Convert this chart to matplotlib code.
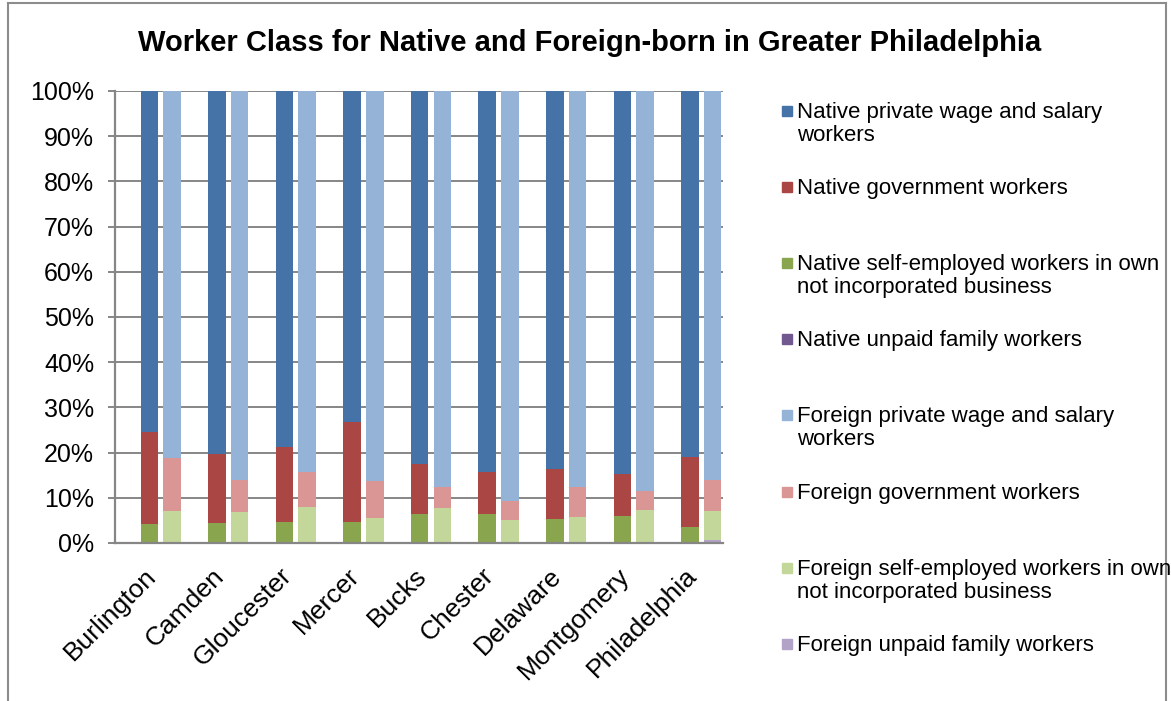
import numpy as np
import matplotlib
matplotlib.use("Agg")
import matplotlib.pyplot as plt
from matplotlib.patches import Rectangle
from matplotlib.lines import Line2D
from matplotlib.ticker import FuncFormatter

# Data (percent of workers)
counties = ["Burlington", "Camden", "Gloucester", "Mercer", "Bucks",
            "Chester", "Delaware", "Montgomery", "Philadelphia"]

native_private = [75.4, 80.2, 78.7, 73.3, 82.6, 84.4, 83.7, 84.8, 81.0]
native_gov     = [20.3, 15.4, 16.7, 22.1, 11.0, 9.1, 11.0, 9.2, 15.5]
native_self    = [4.2, 4.3, 4.5, 4.5, 6.3, 6.4, 5.2, 5.9, 3.4]
native_unpaid  = [0.1, 0.1, 0.1, 0.1, 0.1, 0.1, 0.1, 0.1, 0.1]

foreign_private = [81.3, 86.1, 84.2, 86.2, 87.5, 90.7, 87.5, 88.6, 86.1]
foreign_gov     = [11.7, 7.0, 7.8, 8.3, 4.7, 4.2, 6.8, 4.1, 6.8]
foreign_self    = [6.9, 6.7, 7.9, 5.4, 7.7, 5.0, 5.5, 7.2, 6.5]
foreign_unpaid  = [0.1, 0.2, 0.1, 0.1, 0.1, 0.1, 0.2, 0.1, 0.6]

LABELS = ["Native private wage and salary\nworkers",
          "Native government workers",
          "Native self-employed workers in own\nnot incorporated business",
          "Native unpaid family workers",
          "Foreign private wage and salary\nworkers",
          "Foreign government workers",
          "Foreign self-employed workers in own\nnot incorporated business",
          "Foreign unpaid family workers"]

COLORS = ["#4572A7", "#AA4643", "#89A54E", "#71588F",
          "#95B3D7", "#DA9694", "#C4D79B", "#B3A2C7"]

plt.rcParams.update({
    "font.family": ["Liberation Sans", "DejaVu Sans"],
})

W, H = 1171, 701
fig = plt.figure(figsize=(W / 100, H / 100), dpi=100)
ax = fig.add_axes([115 / W, 1 - 543 / H, (723 - 115) / W, (543 - 91) / H])

x = np.arange(len(counties))
bw = 0.26
x_nat = x + 0.51
x_for = x + 0.845

# stacked from bottom: unpaid, self-employed, government, private
def stack(xpos, series, colors):
    bottom = np.zeros(len(xpos))
    for vals, c in zip(series, colors):
        vals = np.asarray(vals)
        ax.bar(xpos, vals, bw, bottom=bottom, color=c, edgecolor="none",
               zorder=3)
        bottom += vals

stack(x_nat, [native_unpaid, native_self, native_gov, native_private],
      [COLORS[3], COLORS[2], COLORS[1], COLORS[0]])
stack(x_for, [foreign_unpaid, foreign_self, foreign_gov, foreign_private],
      [COLORS[7], COLORS[6], COLORS[5], COLORS[4]])

GRID = "#868686"
ax.set_xlim(0, len(counties))
ax.set_ylim(0, 100)
ax.set_yticks(np.arange(0, 101, 10))
ax.yaxis.set_major_formatter(FuncFormatter(lambda v, p: f"{v:.0f}%"))
ax.grid(axis="y", color=GRID, lw=1.4, zorder=0)
ax.set_axisbelow(True)
for s in ["top", "right"]:
    ax.spines[s].set_visible(False)
for s in ["left", "bottom"]:
    ax.spines[s].set_color(GRID)
    ax.spines[s].set_linewidth(1.6)
    ax.spines[s].set_zorder(4)
ax.tick_params(axis="y", length=5, width=1.4, color=GRID, labelsize=18,
               pad=10)

ax.set_xticks((x_nat + x_for) / 2 - 0.12)
ax.set_xticklabels(counties, fontsize=19, rotation=45, ha="right",
                   va="center", rotation_mode="anchor")
ax.tick_params(axis="x", length=0, pad=21)

fig.text(590 / W, 1 - 43 / H,
         "Worker Class for Native and Foreign-born in Greater Philadelphia",
         ha="center", va="center", fontsize=21, fontweight="bold")

# legend, drawn by hand to keep the wide Excel-style spacing
for k, (lab, c) in enumerate(zip(LABELS, COLORS)):
    yc = 111 + 76.1 * k
    fig.patches.append(Rectangle((782 / W, 1 - (yc + 5) / H), 10 / W, 10 / H,
                                 transform=fig.transFigure, color=c))
    fig.text(797 / W, 1 - (yc - 9) / H, lab, ha="left", va="top",
             fontsize=16, linespacing=1.12)

# chart border
for xs, ys in [([8, 8], [3, H + 5]), ([8, 1166], [3, 3]),
               ([1166, 1166], [3, H + 5])]:
    fig.add_artist(Line2D([v / W for v in xs], [1 - v / H for v in ys],
                          transform=fig.transFigure, color="#8c8c8c",
                          lw=1.5))

fig.savefig("out.png", dpi=100)
